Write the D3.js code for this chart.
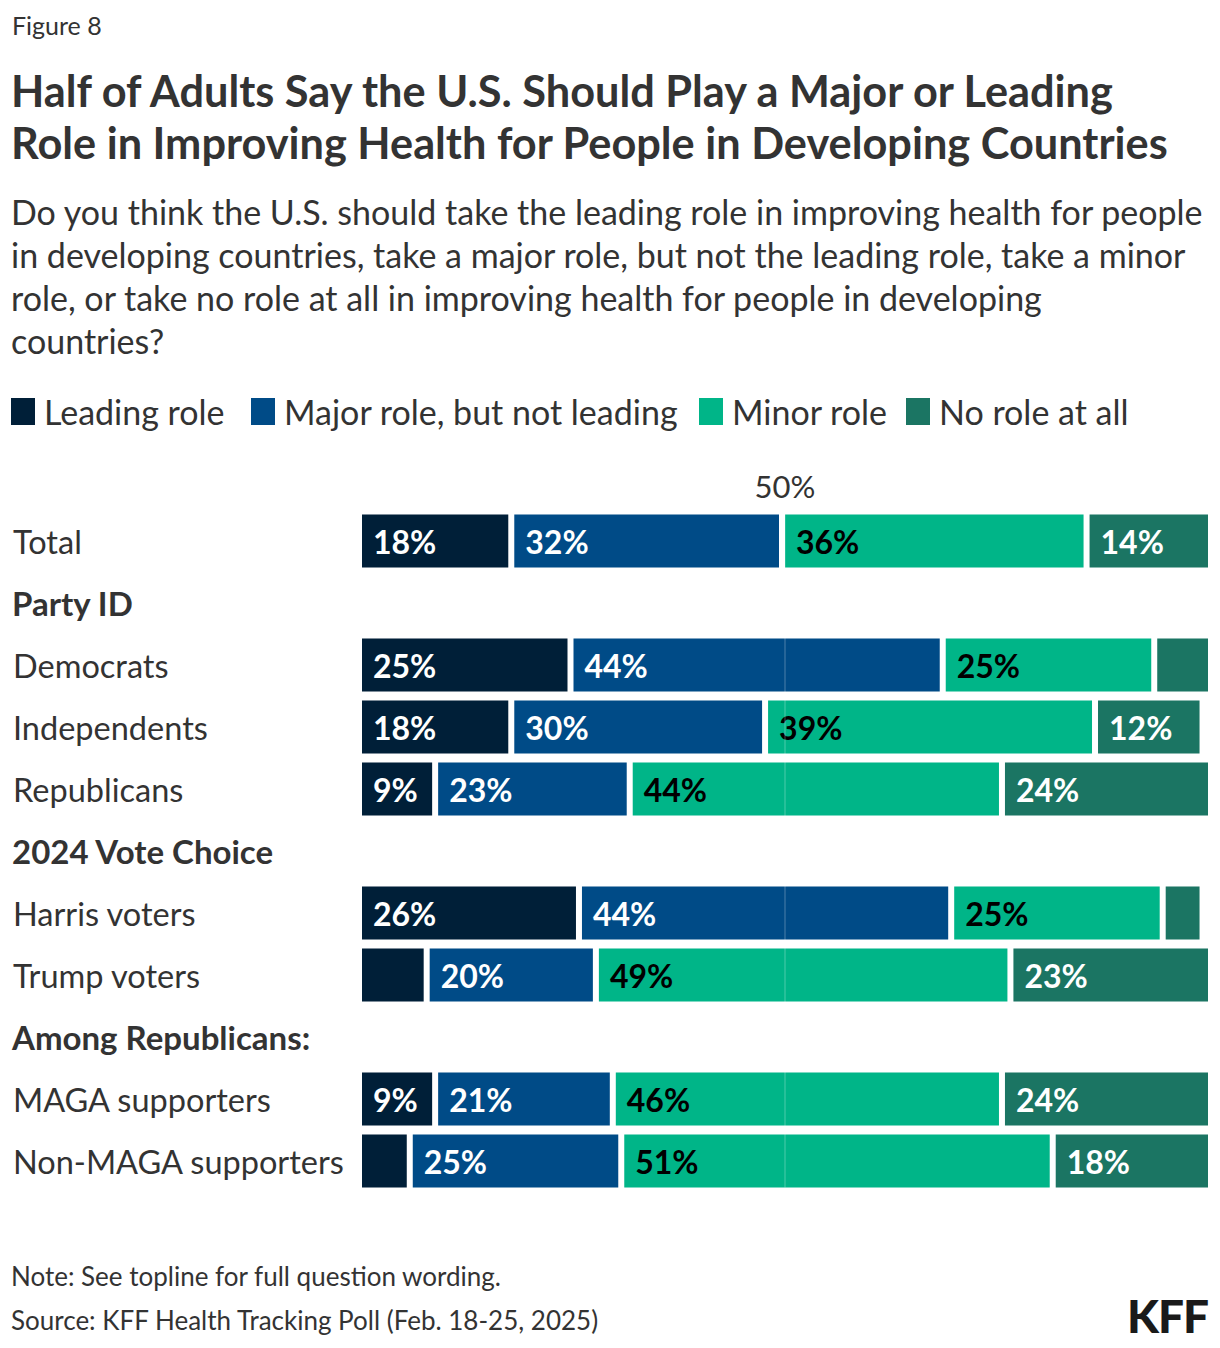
<!DOCTYPE html>
<html><head><meta charset="utf-8">
<script src="https://cdn.jsdelivr.net/npm/d3@7"></script>
<style>
body{margin:0;background:#fff;}
svg{display:block;font-family:Lato,"Noto Sans",sans-serif;}
</style></head>
<body>
<svg id="chart" width="1220" height="1348"></svg>
<script>
const categories = ["Total","Party ID","Democrats","Independents","Republicans","2024 Vote Choice","Harris voters","Trump voters","Among Republicans:","MAGA supporters","Non-MAGA supporters"];
const headers = ["Party ID","2024 Vote Choice","Among Republicans:"];
const seriesNames = ["Leading role","Major role, but not leading","Minor role","No role at all"];
const leading = [18,null,25,18,9,null,26,8,null,9,6];
const major   = [32,null,44,30,23,null,44,20,null,21,25];
const minor   = [36,null,25,39,44,null,25,49,null,46,51];
const noRole  = [14,null,6,12,24,null,4,23,null,24,18];
const colors = ["#001f38","#004b87","#00b588","#1b7563"];
const labelColors = ["#fff","#fff","#000","#fff"];
const refTick = 50;
const refTickLabel = "50%";

const svg = d3.select("#chart");
const textColor = "#333";

// Header texts
svg.append("text").attr("x",12).attr("y",35).attr("font-size",25).attr("fill",textColor).text("Figure 8");
const title = ["Half of Adults Say the U.S. Should Play a Major or Leading","Role in Improving Health for People in Developing Countries"];
title.forEach((t,i)=>svg.append("text").attr("x",11).attr("y",107+i*52).attr("font-size",43.3).attr("font-weight",700).attr("fill",textColor).text(t));
const sub = ["Do you think the U.S. should take the leading role in improving health for people","in developing countries, take a major role, but not the leading role, take a minor","role, or take no role at all in improving health for people in developing","countries?"];
sub.forEach((t,i)=>svg.append("text").attr("x",11).attr("y",225+i*43).attr("font-size",34).attr("fill",textColor).text(t));

// Legend
const legendX = [11,251,699,906];
seriesNames.forEach((n,i)=>{
  svg.append("rect").attr("x",legendX[i]).attr("y",398).attr("width",24).attr("height",27).attr("fill",colors[i]);
  svg.append("text").attr("x",legendX[i]+33).attr("y",425).attr("font-size",34).attr("fill",textColor).text(n);
});

// Scales
const x = d3.scaleLinear().domain([0,100]).range([362,1208]);
const y = d3.scaleBand().domain(categories).range([510,1192]).paddingInner(0.145).paddingOuter(0.0725);
const gap = 6;
const series = [leading,major,minor,noRole];

// Row labels
categories.forEach(c=>{
  const isH = headers.includes(c);
  svg.append("text").attr("x",isH?12:13).attr("y",y(c)+y.bandwidth()/2+13)
    .attr("font-size",isH?33:32.5).attr("font-weight",isH?700:400).attr("fill",textColor).text(c);
});

// Bars
categories.forEach((c,ri)=>{
  if(headers.includes(c)) return;
  let cum = 0;
  series.forEach((s,si)=>{
    const v = s[ri];
    const x0 = x(cum), x1 = x(cum+v);
    const last = si===series.length-1;
    svg.append("rect").attr("x",x0).attr("y",y(c)).attr("height",y.bandwidth())
      .attr("width",Math.max(0,(x1-x0)-(last?0:gap))).attr("fill",colors[si]);
    if(v>=9){
      svg.append("text").attr("x",x0+11).attr("y",y(c)+y.bandwidth()/2+13)
        .attr("font-size",32).attr("font-weight",700).attr("fill",labelColors[si]).text(v+"%");
    }
    cum += v;
  });
});

// 50% reference
svg.append("line").attr("x1",x(refTick)).attr("x2",x(refTick)).attr("y1",y(categories[0])-6).attr("y2",y(categories[categories.length-1])+y.bandwidth())
  .attr("stroke","#fff").attr("stroke-opacity",0.3).attr("stroke-width",1);
svg.append("text").attr("x",x(refTick)).attr("y",498).attr("text-anchor","middle").attr("font-size",31).attr("fill",textColor).text(refTickLabel);

// Footer
svg.append("text").attr("x",11).attr("y",1286).attr("font-size",26).attr("fill",textColor).text("Note: See topline for full question wording.");
svg.append("text").attr("x",11).attr("y",1330).attr("font-size",26).attr("fill",textColor).text("Source: KFF Health Tracking Poll (Feb. 18-25, 2025)");
svg.append("text").attr("x",1208).attr("y",1333).attr("text-anchor","end").attr("font-size",46).attr("font-weight",900).attr("fill","#1a1a1a").attr("letter-spacing",-1).text("KFF");
</script>
</body></html>
